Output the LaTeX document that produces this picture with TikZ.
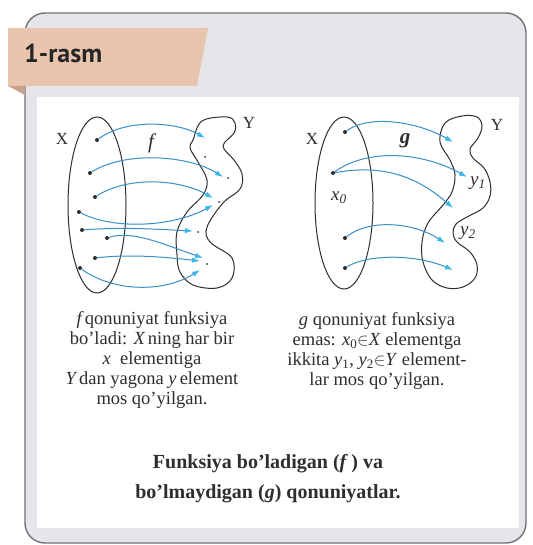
\documentclass[tikz,border=0pt]{standalone}
\usepackage{fontspec}
\setmainfont{Liberation Serif}
\newfontfamily\headfont{PT Sans}
\usepackage{tikz}
\usetikzlibrary{arrows.meta,positioning}

\definecolor{framegray}{HTML}{E4E6E9}
\definecolor{framebord}{HTML}{6F7276}
\definecolor{bandpeach}{HTML}{E9C5AE}
\definecolor{bandfold}{HTML}{C9A28B}
\definecolor{arrblue}{HTML}{3A8FC9}
\definecolor{tipcyan}{HTML}{3DB6EA}
\definecolor{inkgray}{HTML}{2E2E2E}

\tikzset{
  dot/.style={circle, fill=inkgray, inner sep=0pt, minimum size=4pt},
  smalldot/.style={circle, fill=inkgray, inner sep=0pt, minimum size=2pt},
  maparrow/.style={arrblue, line width=1pt, -{Latex[length=8pt,width=5.5pt,color=tipcyan]}},
  setline/.style={inkgray, line width=1pt},
  setlabel/.style={font=\fontsize{17}{17}\selectfont, text=inkgray},
  maplabel/.style={font=\itshape\fontsize{21}{21}\selectfont, text=inkgray},
  caption/.style={font=\fontsize{18.5}{20}\selectfont, align=center, text=inkgray}
}

\begin{document}
\begin{tikzpicture}[x=1pt,y=-1pt]
  \useasboundingbox (0,0) rectangle (532,545);
  % Frame and white panel
  \draw[framebord, line width=1.4pt, fill=framegray, rounded corners=20pt] (25,13) rectangle (526,543);
  \fill[white] (37,97) rectangle (519,528);

  % Header band with its fold
  \fill[bandpeach] (8,28) -- (208,28) -- (197,86) -- (8,86) -- cycle;
  \fill[bandfold] (8,86) -- (25,86) -- (25,95) -- cycle;
  \node[font=\headfont\bfseries\fontsize{26}{26}\selectfont, anchor=base west, text=black!85, inner sep=0pt] (title) at (24,63) {1-rasm};

  % ---- Left diagram: f ----
  \draw[setline] (97,205) ellipse [x radius=29, y radius=88];
  \draw[setline] plot[smooth cycle, tension=0.6] coordinates {(193,140) (202,121) (227,117) (235,123) (234,133) (223,146) (234,160) (242,174) (240,189) (223,203) (207,227) (210,242) (232,258) (232,278) (217,288) (193,285) (180,272) (177,255) (177,232) (187,212) (203,195) (207,180) (198,162) (190,148)};
  \node[setlabel] (Xf) at (62,139) {X};
  \node[setlabel] (Yf) at (249,123) {Y};
  \node[maplabel] (fl) at (151,143) {f};

  % elements of X
  \foreach \n/\p in {1/{97,140}, 2/{90,173}, 3/{95,197}, 4/{79,212}, 5/{82,230}, 6/{107,238}, 7/{95,258}, 8/{80,268}}
    \node[dot] (fa\n) at (\p) {};
  % arrow ends in Y
  \foreach \n/\p in {1/{205,138}, 2/{223,177}, 3/{213,198}, 4/{213,205}, 5/{193,231}, 6/{203,258}, 7/{200,261}, 8/{200,270}}
    \coordinate (fb\n) at (\p);
  % elements of Y
  \foreach \n/\p in {1/{205,157}, 2/{228,178}, 3/{219,202}, 4/{198,232}, 5/{207,264}}
    \node[smalldot] (fy\n) at (\p) {};

  \draw[maparrow] (fa1) .. controls +(30,-22) and +(-28,-16) .. (fb1);
  \draw[maparrow] (fa2) .. controls +(35,-22) and +(-35,-22) .. (fb2);
  \draw[maparrow] (fa3) .. controls +(35,-22) and +(-32,-18) .. (fb3);
  \draw[maparrow] (fa4) .. controls +(35,18) and +(-40,22) .. (fb4);
  \draw[maparrow] (fa5) .. controls +(40,-3) and +(-40,-2) .. (fb5);
  \draw[maparrow] (fa6) .. controls +(25,-8) and +(-40,-14) .. (fb6);
  \draw[maparrow] (fa7) .. controls +(35,-4) and +(-35,-4) .. (fb7);
  \draw[maparrow] (fa8) .. controls +(35,25) and +(-35,22) .. (fb8);

  % ---- Right diagram: g ----
  \draw[setline] (344,203) ellipse [x radius=29, y radius=86];
  \draw[setline] plot[smooth cycle, tension=0.6] coordinates {(440,142) (445,123) (462,116) (477,117) (482,126) (478,138) (470,149) (473,158) (484,168) (490,182) (490,196) (483,208) (467,217) (456,224) (453,233) (457,242) (470,252) (477,265) (475,278) (463,287) (447,288) (432,280) (423,262) (422,242) (428,223) (443,205) (452,192) (455,175) (450,160)};
  \node[setlabel] (Xg) at (312,139) {X};
  \node[setlabel] (Yg) at (497,125) {Y};
  \node[maplabel, font=\bfseries\itshape\fontsize{21}{21}\selectfont] (gl) at (405,141) {g};
  \node[maplabel, font=\itshape\fontsize{19}{19}\selectfont] (x0) at (339,198) {x\textsubscript{0}};
  \node[maplabel, font=\itshape\fontsize{19}{19}\selectfont] (y1) at (478,183) {y\textsubscript{1}};
  \node[maplabel, font=\itshape\fontsize{19}{19}\selectfont] (y2) at (468,233) {y\textsubscript{2}};

  \foreach \n/\p in {1/{345,132}, 2/{333,173}, 3/{345,238}, 4/{345,268}}
    \node[dot] (ga\n) at (\p) {};
  \foreach \n/\p in {1/{453,142}, 2/{467,177}, 3/{453,208}, 4/{445,243}, 5/{453,270}}
    \coordinate (gb\n) at (\p);

  \draw[maparrow] (ga1) .. controls +(25,-18) and +(-35,-20) .. (gb1);
  \draw[maparrow] (ga2) .. controls +(35,-25) and +(-45,-25) .. (gb2);
  \draw[maparrow] (ga2) .. controls +(45,-8) and +(-40,-35) .. (gb3);
  \draw[maparrow] (ga3) .. controls +(25,-20) and +(-30,-20) .. (gb4);
  \draw[maparrow] (ga4) .. controls +(25,-15) and +(-35,-15) .. (gb5);

  % Captions
  \node[caption] (capf) at (152,360) {\textit{f\,}qonuniyat funksiya\\ bo'ladi: \textit{X\,}ning har bir\\ \textit{x}\enspace elementiga\\ \textit{Y\,}dan yagona \textit{y\,}element\\ mos qo'yilgan.};
  \node[caption] (capg) at (377,351) {\textit{g} qonuniyat funksiya\\ emas: \textit{x}\textsubscript{0}$\in$\textit{X} elementga\\ ikkita \textit{y}\textsubscript{1}, \textit{y}\textsubscript{2}$\in$\textit{Y} element-\\ lar mos qo'yilgan.};
  \node[caption, font=\bfseries\fontsize{20}{30}\selectfont] (capmain) at (268,479) {Funksiya bo'ladigan (\textit{f}\,) va\\ bo'lmaydigan (\textit{g}) qonuniyatlar.};
\end{tikzpicture}
\end{document}
